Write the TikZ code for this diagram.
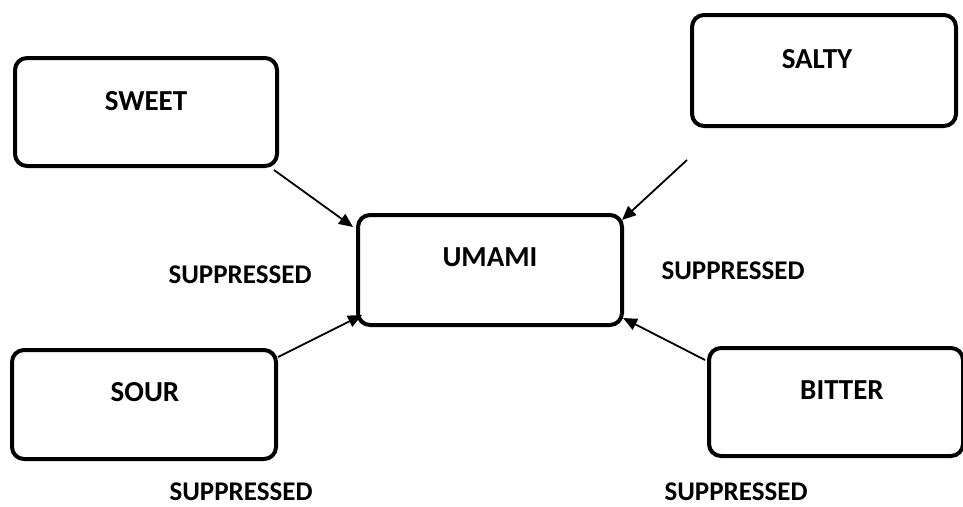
\documentclass[tikz,border=0pt]{standalone}
\usepackage{fontspec}
\setmainfont{Carlito}
\usetikzlibrary{arrows.meta,calc}
\tikzset{
  box/.style={draw=black, line width=4pt, rounded corners=12pt, fill=white, inner sep=0pt},
  boxlbl/.style={font=\bfseries\fontsize{29}{32}\selectfont, anchor=base, inner sep=0pt},
  suplbl/.style={font=\bfseries\fontsize{27}{30}\selectfont, anchor=base, inner sep=0pt},
  conn/.style={line width=1.8pt, -{Triangle[length=14pt,width=12pt]}}
}
\begin{document}
\begin{tikzpicture}[x=1pt,y=-1pt]
\useasboundingbox (0,0) rectangle (963,506);
\node[box, minimum width=262pt, minimum height=108pt] (sweet) at (146,112) {};
\node[box, minimum width=264pt, minimum height=111pt] (salty) at (824,70.5) {};
\node[box, minimum width=264pt, minimum height=110pt] (umami) at (490,270) {};
\node[box, minimum width=264pt, minimum height=109pt] (sour) at (144,404.5) {};
\node[box, minimum width=254pt, minimum height=108pt] (bitter) at (836,402) {};
\node[boxlbl] (sweetT) at (146,110) {SWEET};
\node[boxlbl] (saltyT) at (817,68) {SALTY};
\node[boxlbl] (umamiT) at (490,266) {UMAMI};
\node[boxlbl] (sourT) at (145,401) {SOUR};
\node[boxlbl] (bitterT) at (842,399) {BITTER};
\node[suplbl] (s1) at (240,283) {SUPPRESSED};
\node[suplbl] (s2) at (733,279) {SUPPRESSED};
\node[suplbl] (s3) at (241,500) {SUPPRESSED};
\node[suplbl] (s4) at (736,500) {SUPPRESSED};
\coordinate (saltyEnd) at ($(salty.south west)+(-3,32)$);
\draw[conn] ($(sweet.south east)+(-5,2)$) -- ($(umami.north west)+(-3,14)$);
\draw[conn] (saltyEnd) -- ($(umami.north east)+(-2,7)$);
\draw[conn] ($(sour.north east)+(0,9)$) -- ($(umami.south west)+(6,-12)$);
\draw[conn] ($(bitter.north west)+(-2,14)$) -- ($(umami.south east)+(-1,-9)$);
\end{tikzpicture}
\end{document}
